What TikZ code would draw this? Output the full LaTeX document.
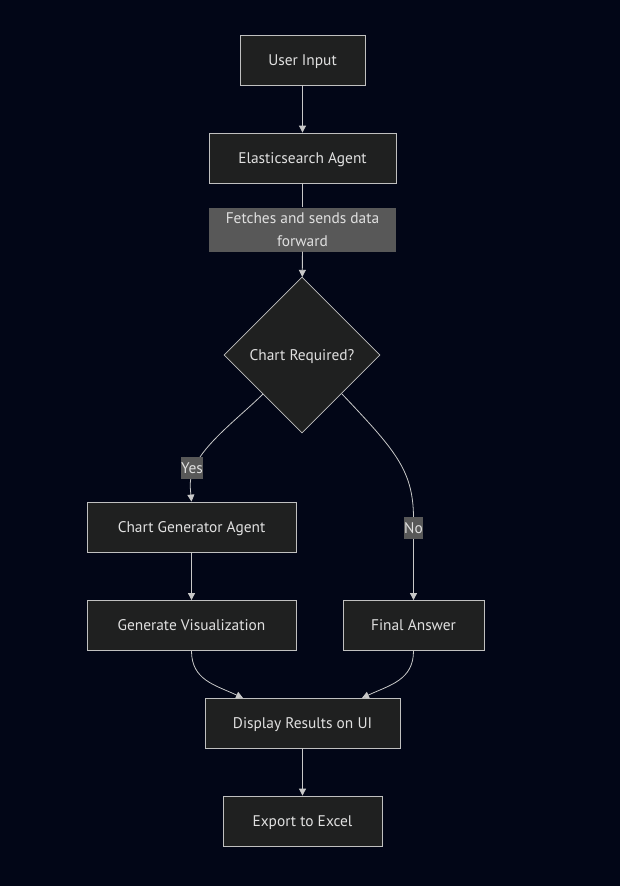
\documentclass[tikz,border=0pt]{standalone}
\usepackage{fontspec}
\setmainfont{PT Sans}
\usetikzlibrary{shapes.geometric,arrows.meta}
\definecolor{bgc}{HTML}{020617}
\definecolor{nodefill}{HTML}{1F2020}
\definecolor{nodeline}{HTML}{C0C0C0}
\definecolor{lblfill}{HTML}{585858}
\definecolor{txt}{HTML}{E0E0E0}
\definecolor{edge}{HTML}{C8C8C8}
\tikzset{
  box/.style={draw=nodeline, fill=nodefill, line width=0.8pt, text=txt, font=\fontsize{15.4}{18}\selectfont, inner sep=0pt, minimum height=50pt, text height=12pt, text depth=2pt},
  dia/.style={draw=nodeline, fill=nodefill, line width=0.8pt, diamond, aspect=1, text=txt, font=\fontsize{15.4}{18}\selectfont, minimum width=156pt, minimum height=156pt, inner sep=0pt, text height=12pt, text depth=2pt},
  lbl/.style={fill=lblfill, text=txt, font=\fontsize{15.4}{23}\selectfont, inner sep=1pt, align=center},
  conn/.style={draw=edge, line width=0.8pt, -{Triangle[length=7pt,width=7pt]}},
  plain/.style={draw=edge, line width=0.8pt}
}
\begin{document}
\begin{tikzpicture}[x=1pt,y=-1pt]
\fill[bgc] (0,0) rectangle (620,886);
\useasboundingbox (0,0) rectangle (620,886);
\node[box, minimum width=125pt] (ui) at (302.5,60) {User Input};
\node[box, minimum width=187pt] (es) at (302.5,158) {Elasticsearch Agent};
\node[lbl, minimum width=187pt, minimum height=44pt] (fl) at (302.5,229.5) {Fetches and sends data\\forward};
\node[dia] (cr) at (302,355) {Chart Required?};
\node[lbl, minimum width=22pt, minimum height=22pt, inner sep=0pt, text height=12pt, text depth=2pt] (yes) at (192,468) {Yes};
\node[box, minimum width=209pt] (cg) at (191.5,527) {Chart Generator Agent};
\node[lbl, minimum width=17pt, minimum height=22pt, inner sep=0pt, text height=12pt, text depth=2pt] (no) at (413.5,528) {No};
\node[box, minimum width=209pt] (gv) at (191.5,625.5) {Generate Visualization};
\node[box, minimum width=141pt] (fa) at (413.5,625.5) {Final Answer};
\node[box, minimum width=195pt] (dr) at (302.5,723) {Display Results on UI};
\node[box, minimum width=159pt] (ex) at (302.5,821) {Export to Excel};
\coordinate (cl) at (263,394);
\coordinate (cr2) at (342,394);
\coordinate (ye) at (200,457);
\coordinate (dl) at (243,698);
\coordinate (drr) at (362,698);
\draw[conn] (ui) -- (es);
\draw[plain] (es) -- (fl);
\draw[conn] (fl) -- (cr);
\draw[plain] (cl) .. controls (245,412) and (214,436) .. (ye);
\draw[conn] (yes) .. controls (190,485) .. (cg.north);
\draw[plain] (cr2) .. controls (395,450) and (413,470) .. (no.north);
\draw[conn] (no) -- (fa.north);
\draw[conn] (cg) -- (gv);
\draw[conn] (gv.south) .. controls (191.5,680) and (215,685) .. (dl);
\draw[conn] (fa.south) .. controls (413.5,680) and (390,685) .. (drr);
\draw[conn] (dr) -- (ex);
\end{tikzpicture}
\end{document}
